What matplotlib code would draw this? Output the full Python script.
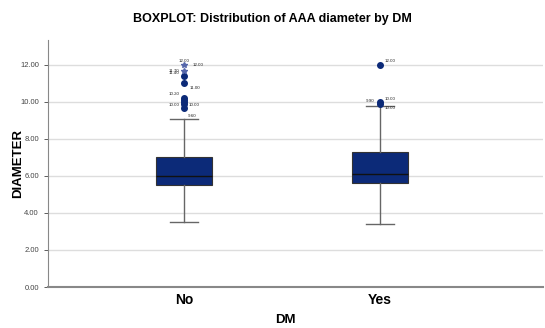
import numpy as np
from matplotlib import pyplot as plt

plt.rcParams['font.family'] = ['Liberation Sans', 'DejaVu Sans']

groups = ['No', 'Yes']
# five-number summaries: whisker low, q1, median, q3, whisker high
whisk_lo = [3.5, 3.4]
q1 = [5.5, 5.6]
median = [6.0, 6.1]
q3 = [7.0, 7.3]
whisk_hi = [9.1, 9.8]

# outliers (circles) and extremes (stars)
no_outliers = [11.4, 11.0, 10.2, 10.1, 10.0, 9.9, 9.7]
no_extremes = [12.0, 11.7]
yes_outliers = [12.0, 10.0, 9.9]

# outlier labels: (group, value, text, dx, dy) offsets in points
labels = [
    (0, 12.0, '12.00', 0, 3), (0, 12.0, '12.00', 10, 0),
    (0, 11.7, '11.70', -7, 0), (0, 11.4, '11.40', -7, 2),
    (0, 11.0, '11.00', 8, -3), (0, 10.2, '10.20', -7, 3),
    (0, 10.0, '10.00', -7, -2), (0, 10.0, '10.00', 7, -2),
    (0, 9.6, '9.60', 6, -5),
    (1, 12.0, '12.00', 7, 3), (1, 10.0, '9.90', -7, 1),
    (1, 10.0, '10.00', 7, 2), (1, 9.9, '10.00', 7, -3),
]

navy = '#0c2a78'

fig = plt.figure(figsize=(5.45, 3.28), dpi=100)
ax = fig.add_axes([0.088, 0.125, 0.908, 0.753])

stats = []
for i in range(len(groups)):
    stats.append(dict(whislo=whisk_lo[i], q1=q1[i], med=median[i],
                      q3=q3[i], whishi=whisk_hi[i], fliers=[]))

ax.bxp(stats, positions=[0, 1], widths=0.286, patch_artist=True,
       showfliers=False,
       boxprops=dict(facecolor=navy, edgecolor='#333333', linewidth=0.8),
       medianprops=dict(color='#111111', linewidth=1.0),
       whiskerprops=dict(color='#666666', linewidth=1.0),
       capprops=dict(color='#666666', linewidth=1.0),
       capwidths=0.14, zorder=3)

ax.plot([0] * len(no_outliers), no_outliers, 'o', color=navy,
        markersize=4, zorder=4)
ax.plot([0] * len(no_extremes), no_extremes, '*', color='#5566aa',
        markersize=4, zorder=4)
ax.plot([1] * len(yes_outliers), yes_outliers, 'o', color=navy,
        markersize=4, zorder=4)

for g, v, txt, dx, dy in labels:
    ax.annotate(txt, (g, v), xytext=(dx, dy), textcoords='offset points',
                fontsize=3.2, ha='center', va='center', color='#222222',
                zorder=5)

ax.set_xlim(-0.694, 1.83)
ax.set_ylim(0, 13.35)
ax.set_yticks(np.arange(0, 13, 2))
ax.set_yticklabels([f'{t:.2f}' for t in np.arange(0, 13, 2)])
ax.tick_params(axis='y', labelsize=5.5, colors='#444444', length=3,
               width=0.6)
ax.tick_params(axis='x', length=0, pad=4)
ax.set_xticks([0, 1])
ax.set_xticklabels(groups, fontsize=10, fontweight='bold')
ax.grid(axis='y', color='#dddddd', linewidth=1.0, zorder=0)
ax.set_axisbelow(True)

for s in ('top', 'right'):
    ax.spines[s].set_visible(False)
ax.spines['left'].set_color('#888888')
ax.spines['bottom'].set_color('#888888')
ax.spines['bottom'].set_linewidth(1.5)

ax.set_ylabel('DIAMETER', fontsize=9.5, fontweight='bold')
ax.yaxis.set_label_coords(-0.048, 0.5)
ax.set_xlabel('DM', fontsize=9.5, fontweight='bold')
ax.xaxis.set_label_coords(0.479, -0.11)
fig.suptitle('BOXPLOT: Distribution of AAA diameter by DM', fontsize=9,
             fontweight='bold', y=0.96)

fig.savefig('out.png', dpi=100)
